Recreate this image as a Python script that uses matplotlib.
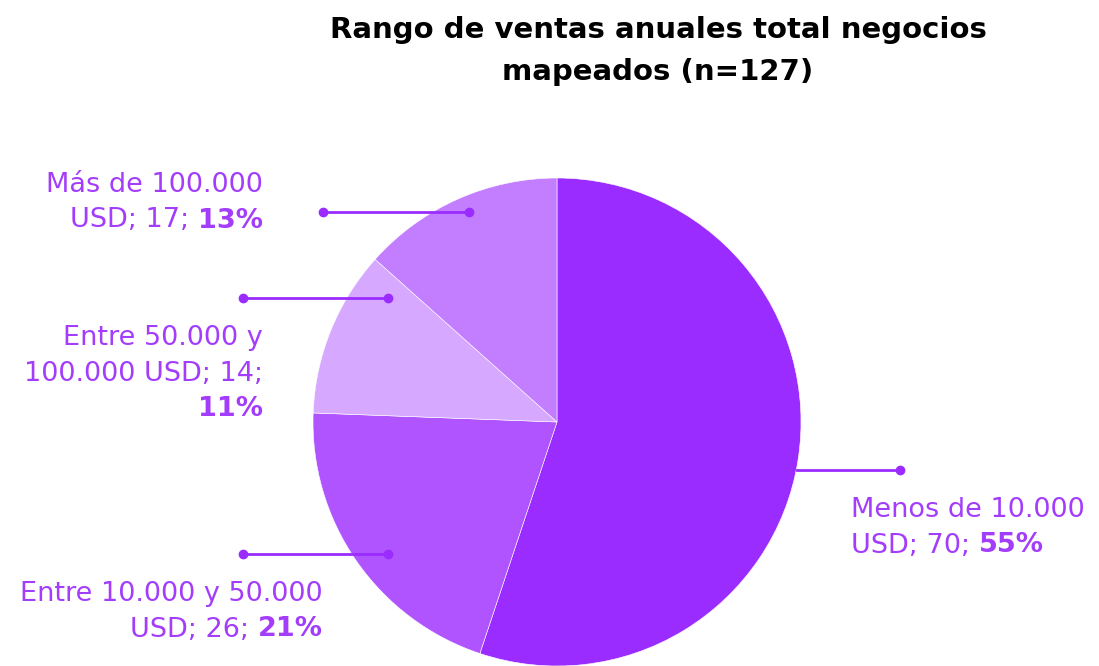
import matplotlib.pyplot as plt

# data
categories = ["Menos de 10.000 USD", "Entre 10.000 y 50.000 USD",
              "Entre 50.000 y 100.000 USD", "Más de 100.000 USD"]
counts = [70, 26, 14, 17]
pcts = ["55%", "21%", "11%", "13%"]
# label lines as shown; last line gets the bold percentage appended
label_lines = [["Menos de 10.000", "USD; 70; "],
               ["Entre 10.000 y 50.000", "USD; 26; "],
               ["Entre 50.000 y", "100.000 USD; 14;", ""],
               ["Más de 100.000", "USD; 17; "]]
colors = ["#9b2cff", "#b054ff", "#d6a8ff", "#c37eff"]

purple = "#9b2cff"
text_col = "#a33dfb"
H = 666

plt.rcParams['font.family'] = ['DejaVu Sans']

fig = plt.figure(figsize=(10.99, 6.66), dpi=100)
ax = fig.add_axes([0, 0, 1, 1])

ax.pie(counts, colors=colors, startangle=90, counterclock=False,
       center=(557, H - 422), radius=244, frame=True,
       wedgeprops=dict(edgecolor="white", linewidth=0.4))
ax.set_xlim(0, 1099)
ax.set_ylim(0, H)
ax.axis('off')

# leader lines: (x0, x1, y, dot at inner end)
leaders = [(797, 900, 470, False), (243, 388, 554, True),
           (243, 388, 298, True), (323, 469, 212, True)]
for x0, x1, y, inner in leaders:
    ax.plot([x0, x1], [H - y, H - y], color=purple, lw=2, zorder=5)
    xs = [x0, x1] if inner else [x1]
    ax.plot(xs, [H - y] * len(xs), 'o', color=purple, ms=6, zorder=5)

fs = 19.5
gap = 35.5
fig.canvas.draw()
rend = fig.canvas.get_renderer()


def label(x, y, lines, pct, ha):
    # y = baseline of first line (pixels from top)
    for i, line in enumerate(lines):
        yy = H - (y + gap * i)
        last = i == len(lines) - 1
        if not last:
            ax.text(x, yy, line, fontsize=fs, color=text_col, ha=ha,
                    va='baseline', fontweight='normal')
            continue
        if ha == 'left':
            t = ax.text(x, yy, line, fontsize=fs, color=text_col, ha='left',
                        va='baseline', fontweight='normal')
            w = t.get_window_extent(rend).width if line else 0
            ax.text(x + w, yy, pct, fontsize=fs, color=text_col, ha='left',
                    va='baseline', fontweight='bold')
        else:
            p = ax.text(x, yy, pct, fontsize=fs, color=text_col, ha='right',
                        va='baseline', fontweight='bold')
            w = p.get_window_extent(rend).width
            if line:
                ax.text(x - w, yy, line, fontsize=fs, color=text_col,
                        ha='right', va='baseline', fontweight='normal')


label(851, 517, label_lines[0], pcts[0], 'left')
label(323, 601, label_lines[1], pcts[1], 'right')
label(263, 345, label_lines[2], pcts[2], 'right')
label(263, 192, label_lines[3], pcts[3], 'right')

ax.text(658, H - 38, "Rango de ventas anuales total negocios",
        fontsize=21, fontweight='bold', color='black', ha='center',
        va='baseline')
ax.text(658, H - 80, "mapeados (n=127)",
        fontsize=21, fontweight='bold', color='black', ha='center',
        va='baseline')

fig.savefig("out.png", dpi=100)
